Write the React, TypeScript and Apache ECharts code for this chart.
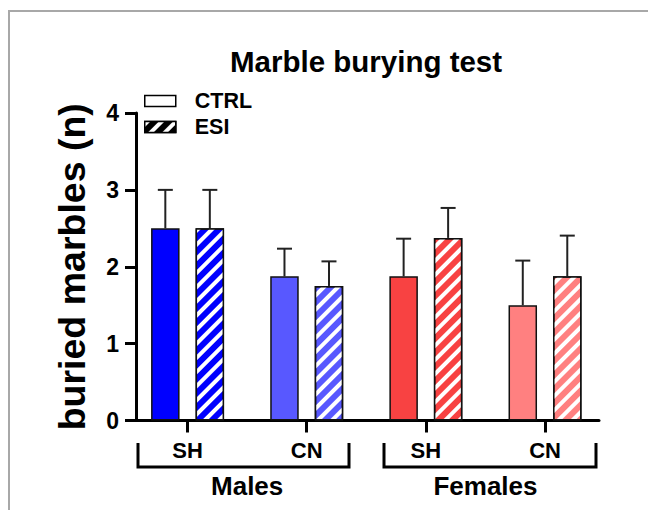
import React, { useEffect, useRef } from "react";
import * as echarts from "echarts";

const categories = ["SH", "CN", "SH", "CN"];
const groups = ["Males", "Females"];
const ctrlMean = [2.5, 1.875, 1.875, 1.5];
const ctrlErr = [0.5, 0.36, 0.49, 0.58];
const esiMean = [2.5, 1.75, 2.375, 1.875];
const esiErr = [0.5, 0.32, 0.39, 0.53];
const barColors = ["#0000FF", "#5858FF", "#F84242", "#FF8080"];
const yMin = 0;
const yMax = 4;
const yInterval = 1;

const FONT = "'Liberation Sans', Arial, Helvetica, sans-serif";
const BAR_W = 28.5;
const BAR_GAP = 16;
const OFFSET = (BAR_W + BAR_GAP) / 2;

const stripe = {
  symbol: "rect",
  symbolSize: 1,
  color: "#ffffff",
  dashArrayX: [1, 0],
  dashArrayY: [4, 6],
  rotation: -Math.PI / 4,
};

function errSeries(name: string, means: number[], errs: number[], off: number) {
  return {
    name,
    type: "custom",
    xAxisIndex: 0,
    yAxisIndex: 0,
    z: 1,
    data: categories.map((_, i) => [i, means[i], errs[i]]),
    encode: { x: 0, y: 1 },
    renderItem: (params: any, api: any) => {
      const c = api.value(0);
      const m = api.value(1);
      const e = api.value(2);
      const base = api.coord([c, m]);
      const top = api.coord([c, m + e]);
      const x = base[0] + off;
      return {
        type: "group",
        children: [
          { type: "line", shape: { x1: x, y1: base[1], x2: x, y2: top[1] }, style: { stroke: "#222", lineWidth: 2 } },
          { type: "line", shape: { x1: x - 7.5, y1: top[1], x2: x + 7.5, y2: top[1] }, style: { stroke: "#222", lineWidth: 2 } },
        ],
      };
    },
  };
}

export default function App() {
  const ref = useRef<HTMLDivElement>(null);
  useEffect(() => {
    if (!ref.current) return;
    const chart = echarts.init(ref.current, null, { renderer: "svg" });
    const grid = { top: 113, bottom: 89.5 };
    chart.setOption({
      animation: false,
      backgroundColor: "#ffffff",
      title: {
        text: "Marble burying test",
        left: 225,
        top: 41,
        textStyle: { fontFamily: FONT, fontWeight: "bold", fontSize: 29.5, color: "#000" },
      },
      legend: {
        orient: "vertical",
        left: 144,
        top: 90,
        padding: 0,
        itemWidth: 31,
        itemHeight: 11,
        itemGap: 4,
        icon: "rect",
        textStyle: { fontFamily: FONT, fontWeight: "bold", fontSize: 21.5, color: "#000", padding: [0, 0, 0, 14] },
        data: [
          { name: "CTRL", itemStyle: { color: "#ffffff", borderColor: "#000", borderWidth: 1.5 } },
          { name: "ESI", itemStyle: { color: "#000000", borderColor: "#000", borderWidth: 1.5, decal: stripe } },
        ],
      },
      grid: [
        { left: 128, right: 43.4, ...grid },
        { left: 136, right: 49, ...grid },
        { left: 128, right: 43.4, ...grid },
      ],
      xAxis: [
        {
          type: "category",
          gridIndex: 0,
          data: categories,
          axisLine: { show: false },
          axisTick: { show: true, alignWithLabel: true, length: 12, lineStyle: { color: "#000", width: 3 } },
          axisLabel: { margin: 19, fontFamily: FONT, fontWeight: "bold", fontSize: 22, color: "#000" },
        },
        {
          type: "value",
          gridIndex: 1,
          min: 0,
          max: 1,
          axisLine: { show: true, lineStyle: { color: "#000", width: 3 } },
          axisTick: { show: false },
          axisLabel: { show: false },
          splitLine: { show: false },
        },
        {
          type: "category",
          gridIndex: 2,
          data: groups,
          axisLine: { show: false },
          axisTick: { show: false },
          axisLabel: { margin: 52, fontFamily: FONT, fontWeight: "bold", fontSize: 26, color: "#000" },
        },
      ],
      yAxis: [
        { type: "value", gridIndex: 0, min: yMin, max: yMax, interval: yInterval, show: false },
        {
          type: "value",
          gridIndex: 1,
          min: yMin,
          max: yMax,
          interval: yInterval,
          name: "buried marbles (n)",
          nameLocation: "middle",
          nameRotate: 90,
          nameGap: 45,
          nameTextStyle: { fontFamily: FONT, fontWeight: "bold", fontSize: 37.5, color: "#000" },
          axisLine: { show: true, lineStyle: { color: "#000", width: 3 } },
          axisTick: { show: true, length: 11, lineStyle: { color: "#000", width: 3 } },
          axisLabel: { margin: 17, fontFamily: FONT, fontWeight: "bold", fontSize: 23, color: "#000" },
          splitLine: { show: false },
        },
        { type: "value", gridIndex: 2, min: yMin, max: yMax, show: false },
      ],
      series: [
        {
          name: "CTRL",
          type: "bar",
          xAxisIndex: 0,
          yAxisIndex: 0,
          barWidth: BAR_W,
          barGap: `${(BAR_GAP / BAR_W) * 100}%`,
          z: 2,
          itemStyle: { color: "#ffffff", borderColor: "#111", borderWidth: 1.5 },
          data: ctrlMean.map((v, i) => ({ value: v, itemStyle: { color: barColors[i] } })),
        },
        {
          name: "ESI",
          type: "bar",
          xAxisIndex: 0,
          yAxisIndex: 0,
          barWidth: BAR_W,
          barGap: `${(BAR_GAP / BAR_W) * 100}%`,
          z: 2,
          itemStyle: { color: "#000000", borderColor: "#111", borderWidth: 1.5, decal: stripe },
          data: esiMean.map((v, i) => ({ value: v, itemStyle: { color: barColors[i], decal: stripe } })),
        },
        errSeries("CTRL err", ctrlMean, ctrlErr, -OFFSET),
        errSeries("ESI err", esiMean, esiErr, OFFSET),
      ],
      graphic: [
        {
          type: "polyline",
          silent: true,
          shape: { points: [[9, 510], [9, 11], [648, 11]] },
          style: { stroke: "#a8a8a8", lineWidth: 2, fill: null },
        },
        {
          type: "polyline",
          silent: true,
          shape: { points: [[138, 443], [138, 467], [349, 467], [349, 443]] },
          style: { stroke: "#000", lineWidth: 3, fill: null },
        },
        {
          type: "polyline",
          silent: true,
          shape: { points: [[384, 443], [384, 467], [596, 467], [596, 443]] },
          style: { stroke: "#000", lineWidth: 3, fill: null },
        },
      ],
    });
    return () => chart.dispose();
  }, []);
  return (
    <div style={{ position: "absolute", left: 0, top: 0, width: 648, height: 510 }}>
      <div ref={ref} style={{ width: 648, height: 510 }} />
    </div>
  );
}
